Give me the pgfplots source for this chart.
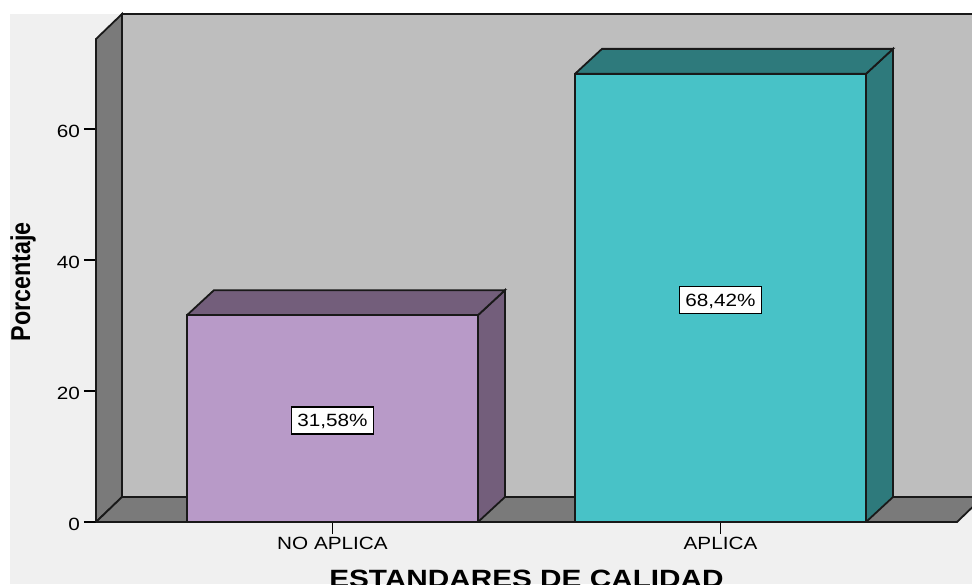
\documentclass[border=0pt]{standalone}
\usepackage{pgfplots}
\pgfplotsset{compat=1.18}
\usepackage{fontspec}
\setmainfont{Liberation Sans}
\definecolor{bgc}{HTML}{F0F0F0}
\definecolor{wallc}{HTML}{BEBEBE}
\definecolor{floorc}{HTML}{7A7A7A}
\definecolor{purplef}{HTML}{B89AC8}
\definecolor{purpled}{HTML}{735E7B}
\definecolor{cyanf}{HTML}{48C2C7}
\definecolor{cyand}{HTML}{2E7A7C}
\begin{document}
\begin{tikzpicture}[x=1pt,y=1pt]
\clip (0,0) rectangle (972,584);
\fill[bgc] (10,0) rectangle (972,570);
\begin{axis}[
  at={(96pt,62pt)},anchor=south west,
  scale only axis,width=876pt,height=508pt,
  xmin=-0.6095,xmax=1.6482,ymin=0,ymax=77.56,
  clip=false,
  axis x line*=bottom,axis y line*=left,
  axis line style={draw=none},
  xtick={0,1},xticklabels={NO APLICA,APLICA},
  ytick={0,20,40,60},
  tick align=outside,major tick length=12pt,
  tick style={black,line width=1.2pt},
  /pgf/number format/assume math mode=true,
  xticklabel style={font=\fontsize{17.7}{20}\selectfont,xscale=1.17,color=black},
  yticklabel style={font=\fontsize{17.7}{20}\selectfont,xscale=1.17,color=black,yshift=-2pt},
  xlabel={\bfseries ESTANDARES DE CALIDAD},
  xlabel style={font=\fontsize{25}{28}\selectfont,xscale=1.19,at={(axis cs:0.5,0)},anchor=north,yshift=-48pt,inner sep=0pt},
  ylabel={\scalebox{1}[1.17]{\bfseries Porcentaje}},
  ylabel style={font=\fontsize{23.3}{26}\selectfont,at={(axis cs:-0.6095,36.8)},anchor=center,yshift=73pt,xshift=-1pt,inner sep=0pt},
  every axis plot/.append style={line width=1.8pt,line join=miter},
]
% back wall
\addplot[fill=wallc,draw=black!90] coordinates {(-0.5425,3.817)(-0.5425,77.56)(1.68,77.56)(1.68,3.817)(-0.5425,3.817)};
% left wall
\addplot[fill=floorc,draw=black!90] coordinates {(-0.6095,0)(-0.6095,73.74)(-0.5425,77.56)(-0.5425,3.817)(-0.6095,0)};
% floor
\addplot[fill=floorc,draw=black!90] coordinates {(-0.6095,0)(1.6095,0)(1.6765,3.817)(-0.5425,3.817)(-0.6095,0)};
% bar 1 depth
\addplot[fill=purpled,draw=black!90] coordinates {(0.375,0)(0.4446,3.817)(0.4446,35.397)(0.375,31.58)(0.375,0)};
\addplot[fill=purpled,draw=black!90] coordinates {(-0.375,31.58)(-0.3054,35.397)(0.4446,35.397)(0.375,31.58)(-0.375,31.58)};
% bar 2 depth
\addplot[fill=cyand,draw=black!90] coordinates {(1.375,0)(1.4446,3.817)(1.4446,72.237)(1.375,68.42)(1.375,0)};
\addplot[fill=cyand,draw=black!90] coordinates {(0.625,68.42)(0.6946,72.237)(1.4446,72.237)(1.375,68.42)(0.625,68.42)};
% bars
\addplot[ybar,bar width=0.75,fill=purplef,draw=black!90] coordinates {(0,31.58)};
\addplot[ybar,bar width=0.75,fill=cyanf,draw=black!90] coordinates {(1,68.42)};
% labels
\addplot[draw=none,point meta=explicit symbolic,nodes near coords,
  every node near coord/.style={anchor=center,xscale=1.17,yshift=-2pt,draw=black,line width=1.3pt,fill=white,text=black,
    font=\fontsize{17.7}{20}\selectfont,text height=12.7pt,text depth=0pt,inner xsep=0pt,inner ysep=7.15pt,minimum width=70pt}]
  coordinates {(0,15.79)[31,58\%] (1,34.21)[68,42\%]};
\end{axis}
\end{tikzpicture}
\end{document}
